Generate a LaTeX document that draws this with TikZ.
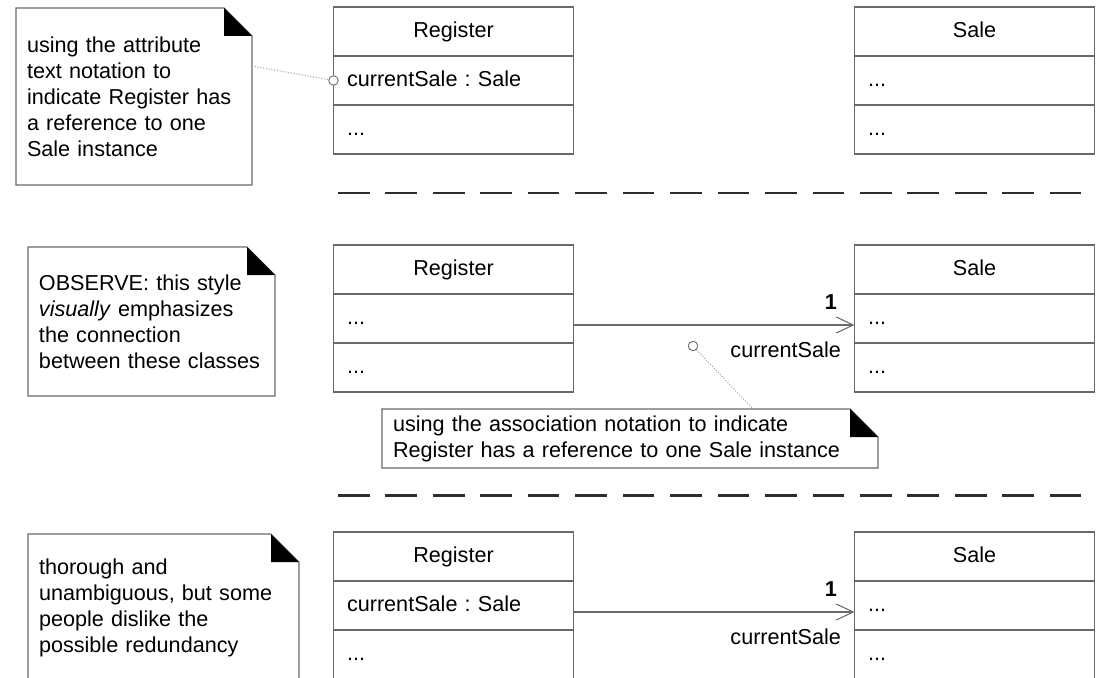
\documentclass[tikz,border=0pt]{standalone}
\usepackage{fontspec}
\setmainfont{Liberation Sans}
\usepackage{xcolor}
\frenchspacing
\definecolor{umlline}{RGB}{105,105,105}
\definecolor{umldash}{RGB}{45,45,45}
\definecolor{umllink}{RGB}{165,165,165}
\usetikzlibrary{arrows.meta,positioning}
\newcommand{\foldsize}{0.56cm}
\tikzset{
  cls/.style={draw=umlline,line width=0.6pt,outer sep=0pt,inner xsep=0.27cm,inner ysep=0pt,
    minimum height=0.98cm,text width=4.26cm,text height=0.72em,text depth=0pt},
  clsname/.style={cls,align=center},
  clsrow/.style={cls,align=left},
  note/.style={inner xsep=0.22cm,inner ysep=0pt,outer sep=0pt,align=left},
  notelink/.style={draw=umllink,line width=0.6pt,densely dotted},
  anchorcirc/.style={circle,draw=umlline,fill=white,line width=0.5pt,minimum size=0.19cm,inner sep=0pt},
  assoc/.style={draw=umlline,line width=0.6pt,-{Straight Barb[length=0.34cm,width=0.32cm]}},
  mult/.style={pos=1,anchor=south east,inner sep=0pt,xshift=-0.34cm,yshift=0.29cm,font=\fontsize{12.3pt}{14.8pt}\selectfont\bfseries},
  role/.style={pos=1,anchor=north east,inner sep=0pt,xshift=-0.26cm,yshift=-0.33cm},
  sepline/.style={draw=umldash,line width=1.7pt,dash pattern=on 0.633cm off 0.316cm}
}
\begin{document}
\begin{tikzpicture}[font=\fontsize{12.3pt}{14.8pt}\selectfont]
  \useasboundingbox (0,0) rectangle (21.92,-13.54);
  \clip (0,0) rectangle (21.92,-13.54);
  % Class boxes, one pair per variant
  \foreach \i/\y/\attr in {1/-0.63/{currentSale : Sale},2/-5.39/{...},3/-11.13/{currentSale : Sale}}{
    \node[clsname] (reg\i) at (9.07,\y) {Register};
    \node[clsrow,below=0pt of reg\i] (regattr\i) {\attr};
    \node[clsrow,below=0pt of regattr\i] (regops\i) {...};
    \node[clsname] (sale\i) at (19.49,\y) {Sale};
    \node[clsrow,below=0pt of sale\i] (saleattr\i) {...};
    \node[clsrow,below=0pt of saleattr\i] (saleops\i) {...};
  }
  % Notes
  \node[note,text width=4.28cm,minimum height=3.54cm] (note1) at (2.68,-1.93)
    {using the attribute\\text notation to\\indicate Register has\\a reference to one\\Sale instance};
  \node[note,text width=4.50cm,minimum height=2.98cm] (note2) at (3.03,-6.43)
    {OBSERVE: this style\\\textit{visually} emphasizes\\the connection\\between these classes};
  \node[note,text width=9.48cm,minimum height=1.18cm] (note3) at (12.60,-8.77)
    {using the association notation to indicate\\Register has a reference to one Sale instance};
  \node[note,text width=4.98cm,minimum height=2.94cm] (note4) at (3.27,-12.15)
    {thorough and\\unambiguous, but some\\people dislike the\\possible redundancy};
  \foreach \n in {note1,note2,note3,note4}{
    \draw[umlline,line width=0.6pt] (\n.north west) -- ([xshift=-\foldsize]\n.north east)
      -- ([yshift=-\foldsize]\n.north east) -- (\n.south east) -- (\n.south west) -- cycle;
    \fill ([xshift=-\foldsize]\n.north east) -- ([yshift=-\foldsize]\n.north east)
      -- ([xshift=-\foldsize,yshift=-\foldsize]\n.north east) -- cycle;
  }
  % Note anchors
  \node[anchorcirc] (k1) at (regattr1.west) {};
  \draw[notelink] ([yshift=0.61cm]note1.east) -- (k1);
  \node[anchorcirc] (k2) at (13.86,-6.92) {};
  \draw[notelink] (k2) -- ([xshift=7.42cm]note3.north west);
  % Associations
  \foreach \i in {2,3}{
    \draw[assoc] ([yshift=-0.13cm]regattr\i.east) -- ([yshift=-0.13cm]saleattr\i.west)
      node[mult] {1} node[role] {currentSale};
  }
  % Separators
  \draw[sepline] (6.76,-3.86) -- (21.64,-3.86);
  \draw[sepline] (6.76,-9.90) -- (21.64,-9.90);
\end{tikzpicture}
\end{document}
